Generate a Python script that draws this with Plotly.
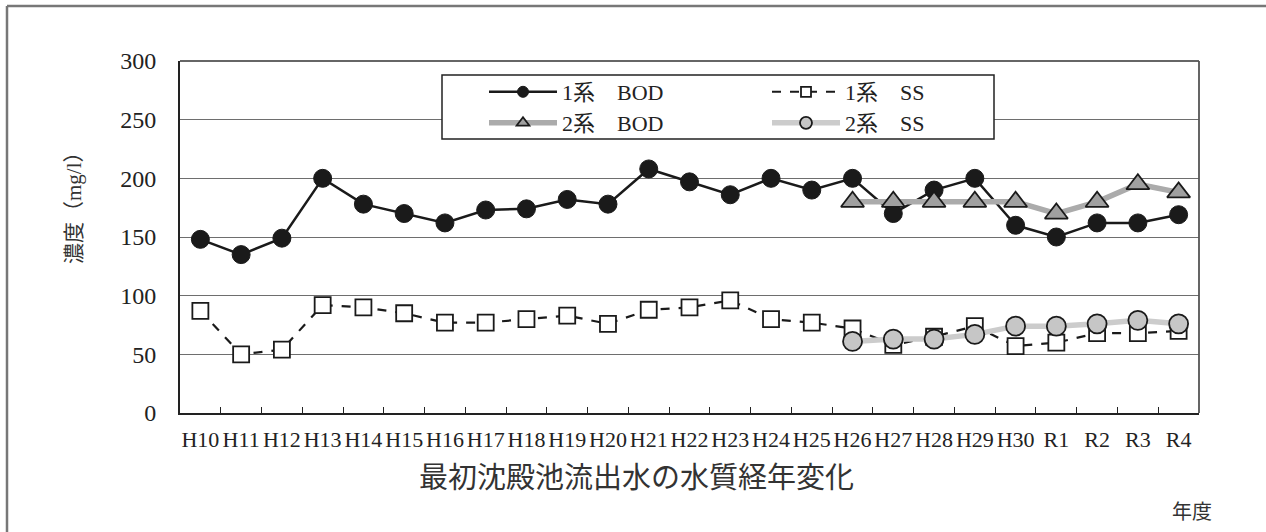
import plotly.graph_objects as go

years = ["H10", "H11", "H12", "H13", "H14", "H15", "H16", "H17", "H18", "H19",
         "H20", "H21", "H22", "H23", "H24", "H25", "H26", "H27", "H28", "H29",
         "H30", "R1", "R2", "R3", "R4"]

bod1 = [148, 135, 149, 200, 178, 170, 162, 173, 174, 182,
        178, 208, 197, 186, 200, 190, 200, 170, 190, 200,
        160, 150, 162, 162, 169]
ss1 = [87, 50, 54, 92, 90, 85, 77, 77, 80, 83,
       76, 88, 90, 96, 80, 77, 72, 58, 65, 74,
       57, 60, 68, 68, 70]
years2 = ["H26", "H27", "H28", "H29", "H30", "R1", "R2", "R3", "R4"]
bod2 = [180, 180, 180, 180, 180, 170, 180, 195, 188]
ss2 = [61, 63, 63, 67, 74, 74, 76, 79, 76]

yticks = [0, 50, 100, 150, 200, 250, 300]

SERIF = "Liberation Serif, Noto Sans CJK JP, serif"
CJK = "Noto Sans CJK JP, sans-serif"
INK = "#222222"

series = [
    # name, x, y, legend, line, marker(size data), legend marker size
    ("1系\u2003BOD", years, bod1, "legend",
     dict(color="#1a1a1a", width=2.5),
     dict(symbol="circle", color="#1a1a1a", line=dict(color="#1a1a1a", width=1)),
     18, 11),
    ("1系\u2003SS", years, ss1, "legend",
     dict(color="#1a1a1a", width=2.2, dash="dash"),
     dict(symbol="square", color="white", line=dict(color="#1a1a1a", width=1.8)),
     16, 10),
    ("2系\u2003BOD", years2, bod2, "legend2",
     dict(color="#ababab", width=5.5),
     dict(symbol="triangle-up", color="#a0a0a0", line=dict(color="#1a1a1a", width=1.8)),
     20, 11),
    ("2系\u2003SS", years2, ss2, "legend2",
     dict(color="#cccccc", width=5.5),
     dict(symbol="circle", color="#c6c6c6", line=dict(color="#1a1a1a", width=1.8)),
     19, 12),
]

fig = go.Figure()
for name, xs, ys, lg, ln, mk, msize, lsize in series:
    fig.add_trace(go.Scatter(
        x=xs, y=ys, name=name, mode="lines+markers", showlegend=False,
        line=ln, marker=dict(size=msize, **mk)))
for name, xs, ys, lg, ln, mk, msize, lsize in series:
    # legend-only proxy (no data) so the legend sample uses smaller markers
    lw = dict(ln)
    if lw.get("dash") == "dash":
        lw["width"] = 2
    fig.add_trace(go.Scatter(
        x=[None], y=[None], name=name, mode="lines+markers", legend=lg,
        showlegend=True, line=lw, marker=dict(size=lsize, **mk)))

L, R, T, B = 180, 1199, 61, 413
W, H = 1266, 532
pw, ph = R - L, B - T


def px(x):
    return (x - L) / pw


def py(y):
    return (B - y) / ph


legend_common = dict(
    orientation="h", xanchor="left", yanchor="middle",
    bgcolor="rgba(0,0,0,0)", borderwidth=0,
    font=dict(family=SERIF, size=22, color=INK),
    entrywidth=200, entrywidthmode="pixels", itemwidth=68,
    itemsizing="trace", traceorder="normal",
)

fig.update_layout(
    width=W, height=H,
    margin=dict(l=L, r=W - R, t=T, b=H - B, pad=0),
    paper_bgcolor="white", plot_bgcolor="white",
    font=dict(family=SERIF, size=21, color=INK),
    showlegend=True,
    legend=dict(x=px(484), y=py(92), **legend_common),
    legend2=dict(x=px(484), y=py(123), **legend_common),
    xaxis=dict(
        type="category", categoryorder="array", categoryarray=years,
        range=[-0.5, len(years) - 0.5],
        showgrid=False, showline=True, linecolor=INK, linewidth=2,
        ticks="inside", tickson="boundaries", ticklen=6, tickcolor=INK,
        tickwidth=1.2, tickangle=0,
        tickfont=dict(family=SERIF, size=22, color=INK),
        ticklabelstandoff=6, zeroline=False,
    ),
    yaxis=dict(
        range=[0, 300], tickvals=yticks, ticktext=[str(v) for v in yticks],
        showgrid=True, gridcolor="#6e6e6e", gridwidth=1.3,
        showline=True, linecolor=INK, linewidth=2,
        ticks="", tickfont=dict(family=SERIF, size=24, color=INK),
        ticklabelstandoff=17, zeroline=False,
    ),
    shapes=[
        # outer frame
        dict(type="line", xref="paper", yref="paper", x0=px(7), x1=px(7),
             y0=py(6), y1=py(560), line=dict(color="#777777", width=2.5)),
        dict(type="line", xref="paper", yref="paper", x0=px(7), x1=px(1290),
             y0=py(6), y1=py(6), line=dict(color="#777777", width=2.5)),
        # plot box top/right
        dict(type="line", xref="paper", yref="paper", x0=0, x1=1,
             y0=1, y1=1, line=dict(color="#333333", width=1.5)),
        dict(type="line", xref="paper", yref="paper", x0=1, x1=1,
             y0=0, y1=1, line=dict(color="#555555", width=1.8)),
        # legend frame
        dict(type="rect", xref="paper", yref="paper", x0=px(442), x1=px(994),
             y0=py(75), y1=py(139), fillcolor="white",
             line=dict(color=INK, width=1.5), layer="above"),
    ],
    annotations=[
        dict(text="濃度（mg/l）", xref="paper", yref="paper",
             x=px(74), y=py(203), textangle=-90, showarrow=False,
             xanchor="center", yanchor="middle",
             font=dict(family=SERIF, size=21, color="#333333")),
        dict(text="最初沈殿池流出水の水質経年変化", xref="paper", yref="paper",
             x=px(636), y=py(475), showarrow=False,
             xanchor="center", yanchor="middle",
             font=dict(family=CJK, size=29, color="#333333")),
        dict(text="年度", xref="paper", yref="paper",
             x=px(1192), y=py(510), showarrow=False,
             xanchor="center", yanchor="middle",
             font=dict(family=CJK, size=20, color="#333333")),
    ],
)

fig.write_html("out.html")
